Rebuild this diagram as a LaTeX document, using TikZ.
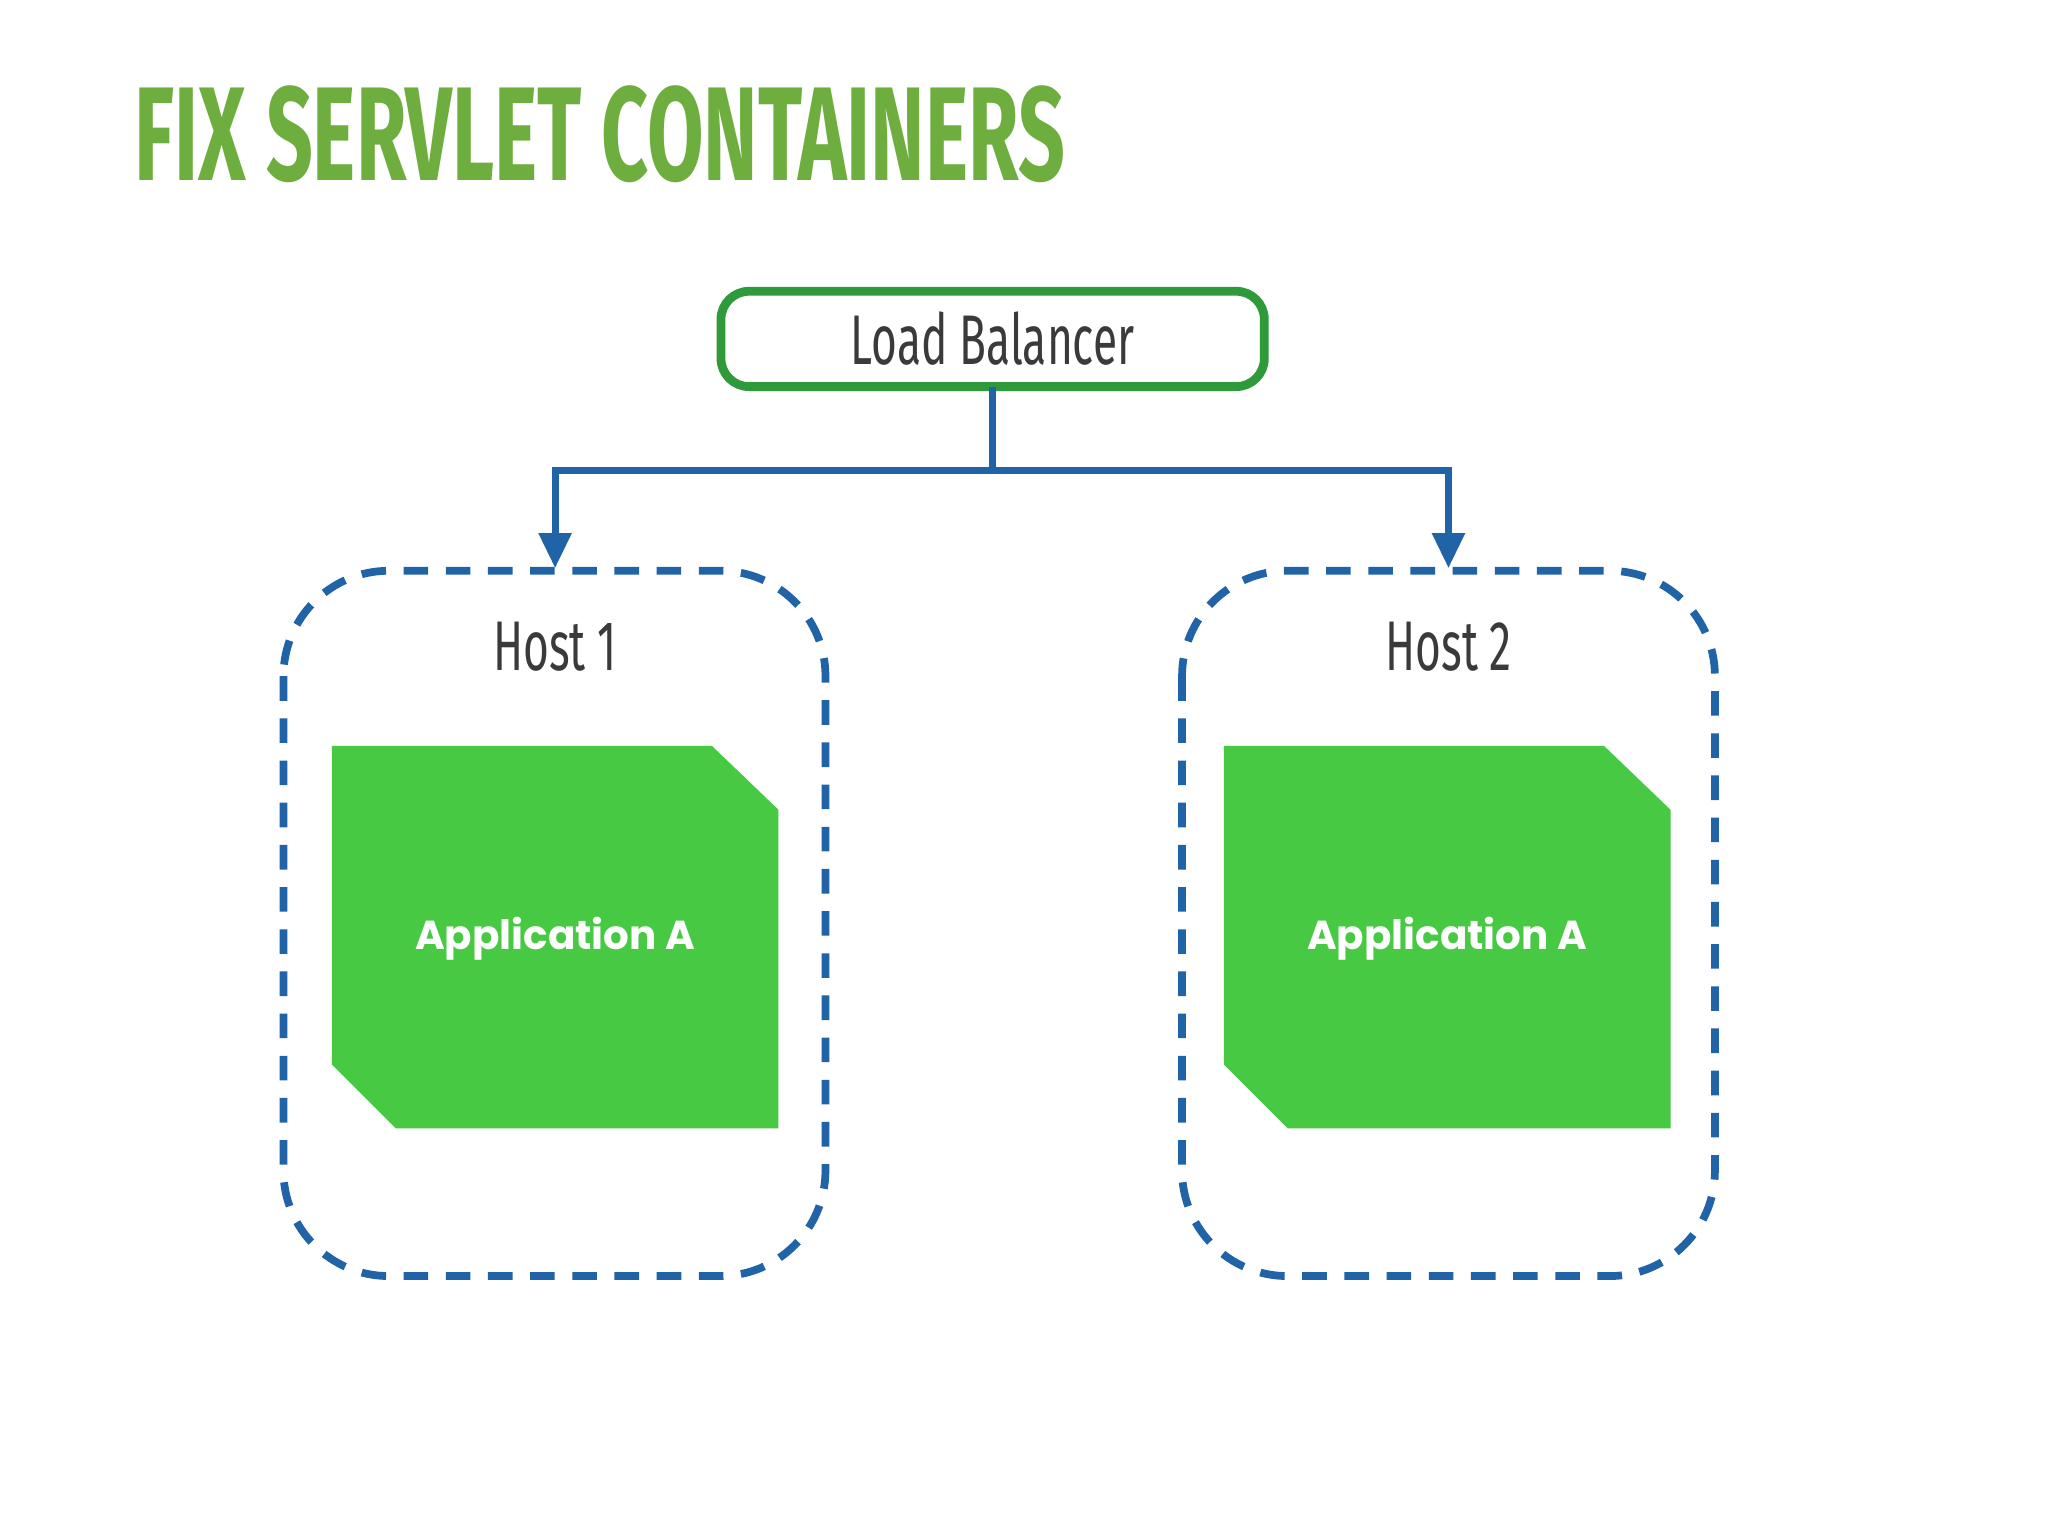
\documentclass[tikz,border=0pt]{standalone}
\usepackage{fontspec}
\setmainfont{Fira Sans}
\newfontfamily\appfont{Poppins}
\usetikzlibrary{arrows.meta}
\definecolor{titlegreen}{HTML}{6DAE3E}
\definecolor{boxgreen}{HTML}{2E9A3A}
\definecolor{appgreen}{HTML}{48C944}
\definecolor{linkblue}{HTML}{2063A6}
\definecolor{textgray}{HTML}{3A3A3A}

\tikzset{
  lbbox/.style={draw=boxgreen, line width=2.5pt, rounded corners=8pt, fill=white},
  hostbox/.style={draw=linkblue, line width=2.2pt, dash pattern=on 7pt off 5pt, rounded corners=30pt},
  link/.style={draw=linkblue, line width=2pt, -{Triangle[length=10pt,width=9pt]}},
  lbl/.style={text=textgray, font=\fontsize{20}{22}\selectfont, xscale=0.63},
  app/.style={fill=appgreen},
}

\begin{document}
\begin{tikzpicture}[x=0.013061cm, y=-0.013061cm]
    \useasboundingbox (0,0) rectangle (1568,1176);
    \fill[white] (0,0) rectangle (1568,1176);

    % title
    \node[anchor=west, inner sep=0pt, text=titlegreen, font=\bfseries\fontsize{38}{42}\selectfont, xscale=0.614] (title) at (103,103) {FIX SERVLET CONTAINERS};

    % load balancer
    \draw[lbbox] (552,223) rectangle (968,296);
    \node[lbl] (lb) at (760,259) {Load Balancer};

    % hosts
    \draw[hostbox] (217,437) rectangle (632,977);
    \draw[hostbox] (905,437) rectangle (1313,977);
    \node[lbl] (host1) at (425,495) {Host 1};
    \node[lbl] (host2) at (1109,495) {Host 2};
    \coordinate (h1top) at (425,435);
    \coordinate (h2top) at (1109,435);
    \coordinate (lbbottom) at (760,296);

    % applications
    \foreach \dx/\nm in {0/appa, 683/appb} {
        \fill[app, xshift=\dx*0.013061cm] (254,571) -- (545,571) -- (596,620) -- (596,864) -- (303,864) -- (254,815) -- cycle;
        \node[text=white, font=\appfont\fontsize{11.5}{13}\selectfont\bfseries] (\nm) at (425+\dx,719) {Application A};
    }

    % connectors
    \draw[linkblue, line width=2pt] (lbbottom) -- (760,360);
    \draw[link] (760,360) -| (h1top);
    \draw[link] (760,360) -| (h2top);
\end{tikzpicture}
\end{document}
